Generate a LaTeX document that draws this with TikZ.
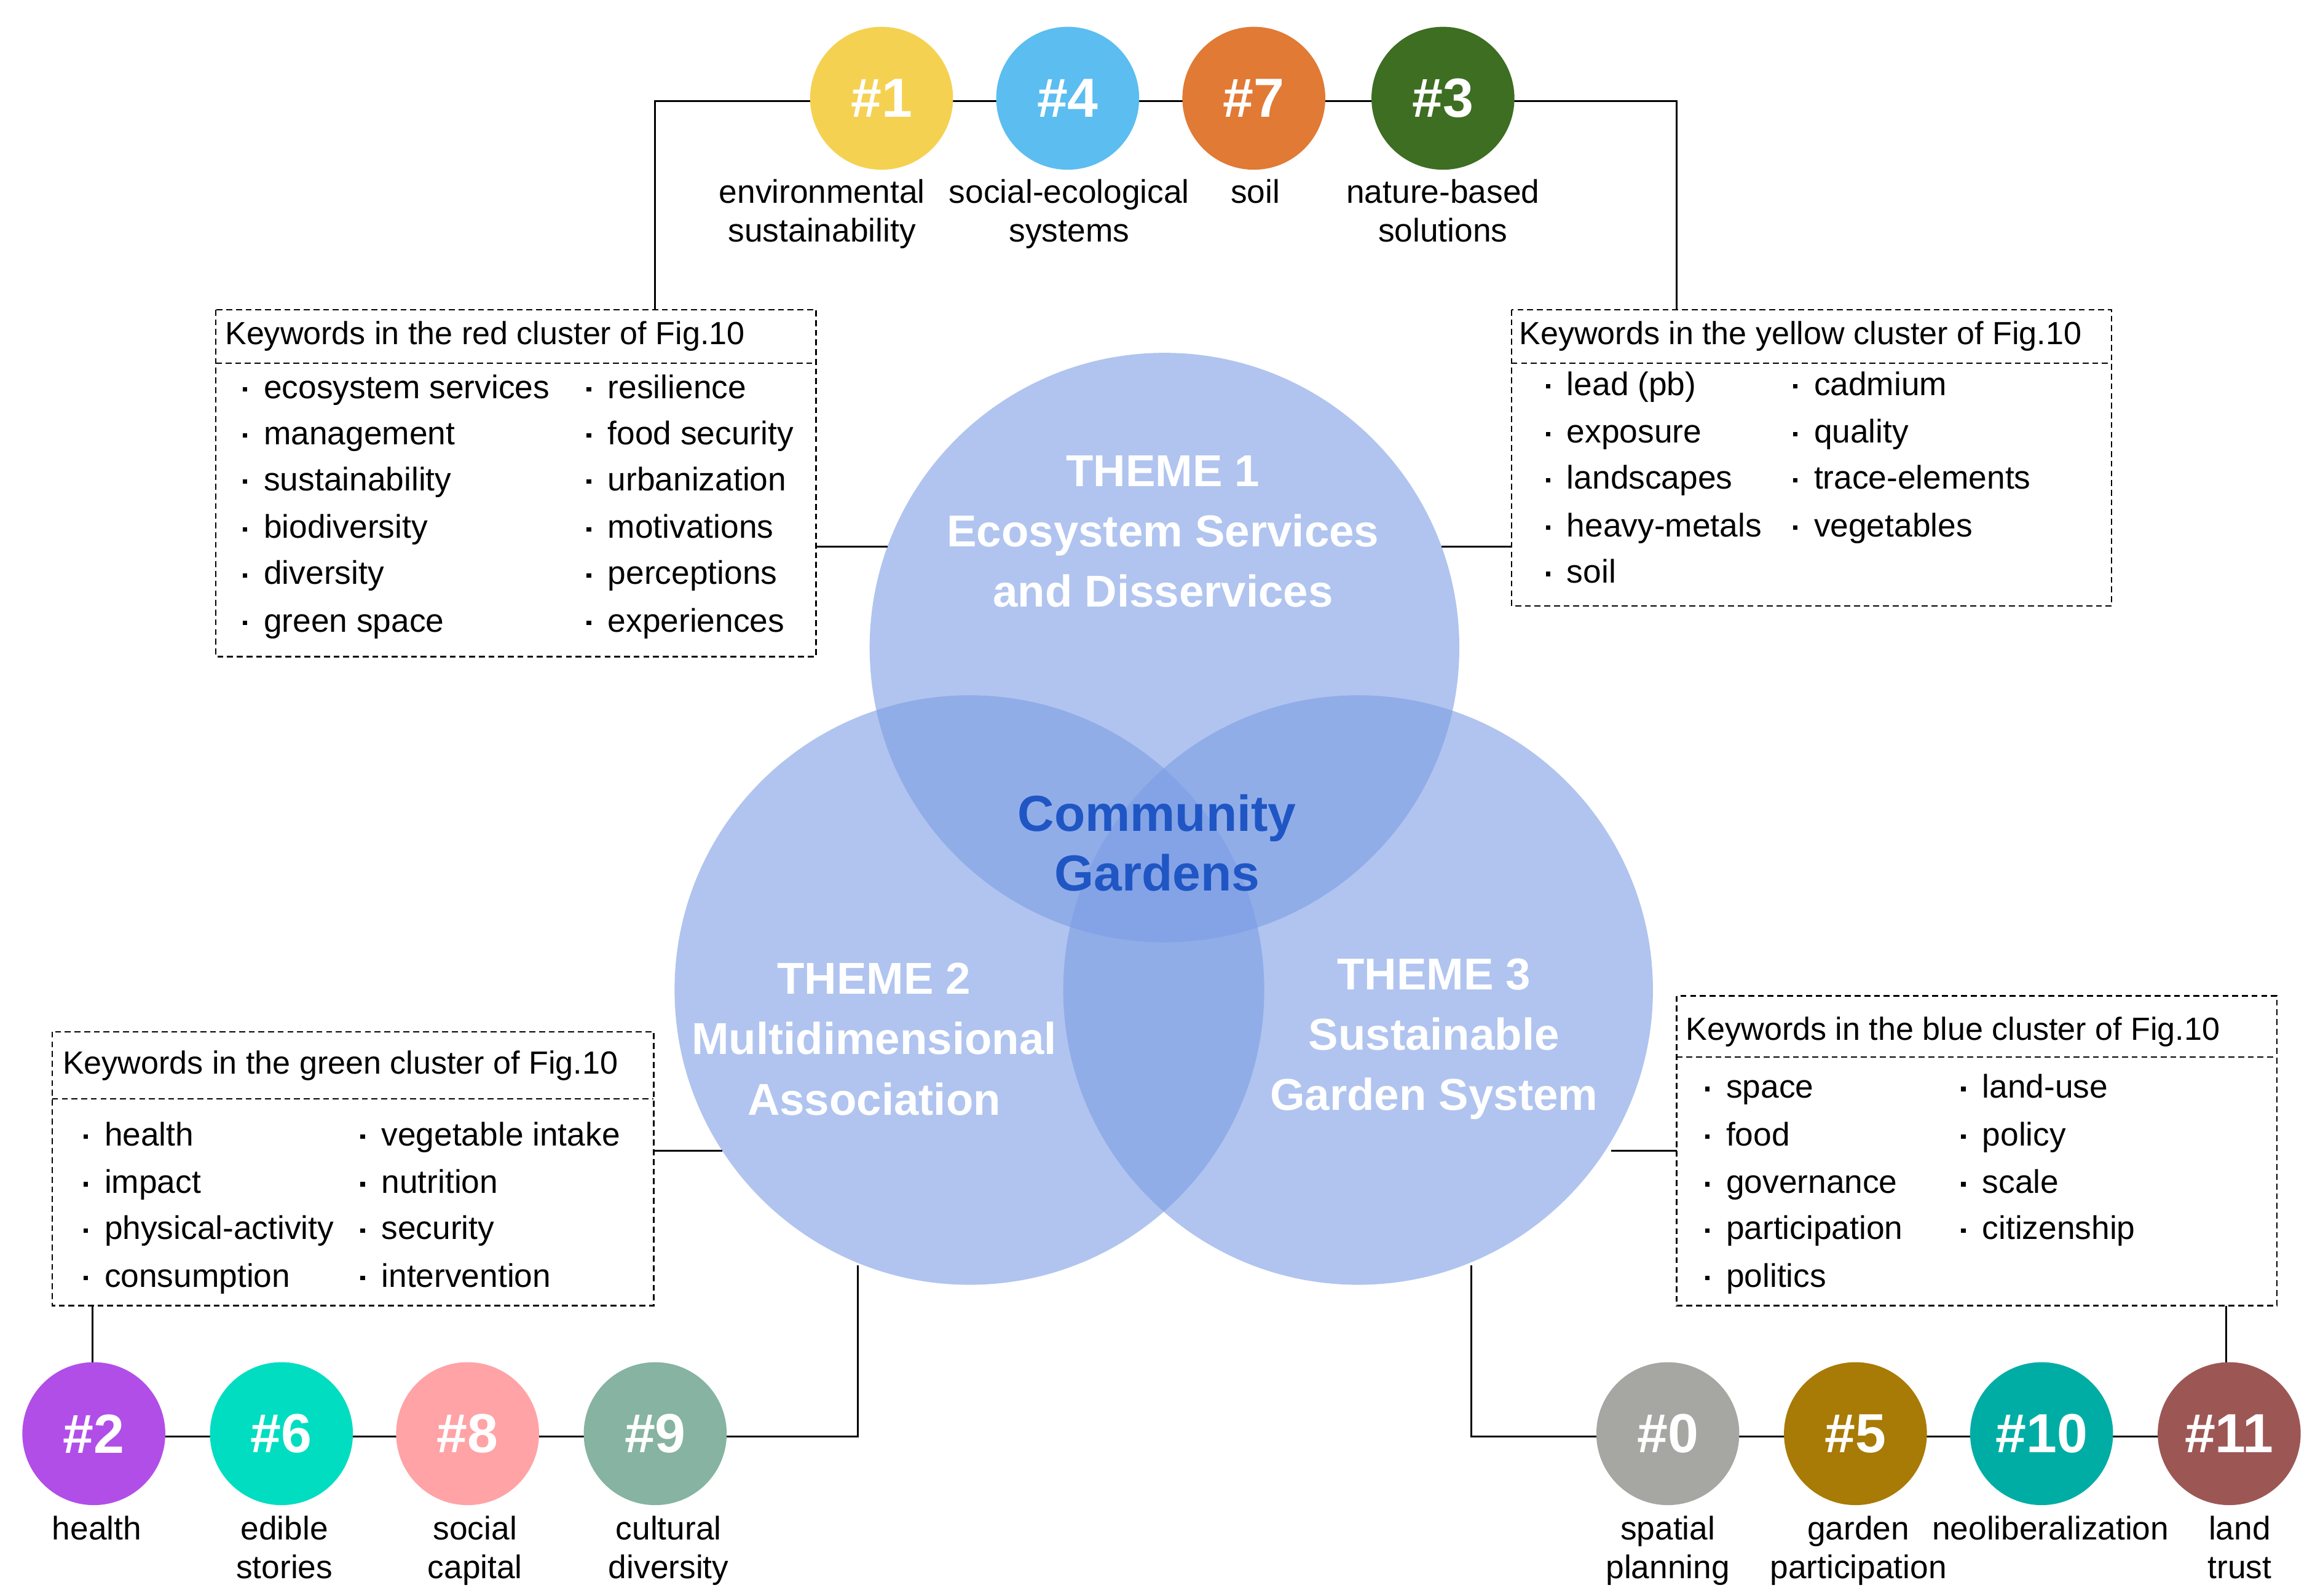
\documentclass[tikz,border=0pt]{standalone}
\usepackage{fontspec}
\setmainfont{Liberation Sans}
\definecolor{bigc}{HTML}{7C9DE4}
\definecolor{HT1}{HTML}{F5D152}
\definecolor{HT4}{HTML}{5BBDF0}
\definecolor{HT7}{HTML}{E07A35}
\definecolor{HT3}{HTML}{3D6E22}
\definecolor{HT2}{HTML}{B24EE8}
\definecolor{HT6}{HTML}{00DDC0}
\definecolor{HT8}{HTML}{FFA3A6}
\definecolor{HT9}{HTML}{86B3A2}
\definecolor{HT0}{HTML}{A6A6A2}
\definecolor{HT5}{HTML}{A87A06}
\definecolor{HT10}{HTML}{00ADA5}
\definecolor{HT11}{HTML}{9C5755}
\definecolor{cgc}{HTML}{1F56C4}
\begin{document}
\begin{tikzpicture}[x=1pt,y=-1pt,
  cl/.style={circle,minimum size=96pt,inner sep=0pt,text=white,font=\fontsize{37}{37}\selectfont\bfseries},
  lab/.style={align=center,font=\fontsize{22}{26}\selectfont,anchor=north},
  kw/.style={anchor=west,inner sep=0pt,text height=15pt,text depth=4pt,font=\fontsize{22}{24}\selectfont},
  ttl/.style={anchor=west,inner sep=0pt,text height=15pt,text depth=4pt,font=\fontsize{21.5}{24}\selectfont},
  box/.style={draw,dash pattern=on 4pt off 2.5pt,line width=1pt},
  ln/.style={line width=1.2pt},
  big/.style={circle,fill=bigc,fill opacity=0.6,minimum size=396pt,inner sep=0pt},
  th/.style={text=white,align=center,font=\fontsize{30}{40.5}\selectfont\bfseries}]
\useasboundingbox (0,0) rectangle (1560,1072);
\newcommand{\kwi}[3]{\fill (#1-4,#2-2) rectangle (#1-1,#2+1); \node[kw] at (#1+10,#2) {#3};}
% big circles
\node[big] (t1) at (782,435) {};
\node[big] (t2) at (651,665) {};
\node[big] (t3) at (912,665) {};
\node[th] at (781,357) {THEME 1\\Ecosystem Services\\and Disservices};
\node[th] at (587,698) {THEME 2\\Multidimensional\\Association};
\node[th] at (963,698) {THEME 3\\Sustainable\\Garden System};
\node[text=cgc,align=center,font=\fontsize{34}{40}\selectfont\bfseries] (cg) at (777,566) {Community\\Gardens};
% top
\coordinate (tl) at (440,68); \coordinate (tr) at (1126,68);
\draw[ln] (440,208) -- (tl) -- (tr) -- (1126,208);
\node[cl,fill=HT1] (c1) at (592,66) {\#1};
\node[cl,fill=HT4] (c4) at (717,66) {\#4};
\node[cl,fill=HT7] (c7) at (842,66) {\#7};
\node[cl,fill=HT3] (c3) at (969,66) {\#3};
\node[lab] at (552,117) {environmental\\sustainability};
\node[lab] at (718,117) {social-ecological\\systems};
\node[lab] at (843,117) {soil};
\node[lab] at (969,117) {nature-based\\solutions};
% red box
\draw[box] (145,208) rectangle (548,441); \draw[box] (145,244)--(548,244);
\node[ttl] at (151,226) {Keywords in the red cluster of Fig.10};
\kwi{167}{262}{ecosystem services}\kwi{167}{293}{management}\kwi{167}{324}{sustainability}
\kwi{167}{356}{biodiversity}\kwi{167}{387}{diversity}\kwi{167}{419}{green space}
\kwi{398}{262}{resilience}\kwi{398}{293}{food security}\kwi{398}{324}{urbanization}
\kwi{398}{356}{motivations}\kwi{398}{387}{perceptions}\kwi{398}{419}{experiences}
\draw[ln] (548,367) -- (596,367);
% yellow box
\draw[box] (1015,208) rectangle (1418,407); \draw[box] (1015,244)--(1418,244);
\node[ttl] at (1020,226) {Keywords in the yellow cluster of Fig.10};
\kwi{1042}{260}{lead (pb)}\kwi{1042}{292}{exposure}\kwi{1042}{323}{landscapes}\kwi{1042}{355}{heavy-metals}\kwi{1042}{386}{soil}
\kwi{1208}{260}{cadmium}\kwi{1208}{292}{quality}\kwi{1208}{323}{trace-elements}\kwi{1208}{355}{vegetables}
\draw[ln] (1015,367) -- (968,367);
% green box
\draw[box] (35,693) rectangle (439,877); \draw[box] (35,738)--(439,738);
\node[ttl] at (42,716) {Keywords in the green cluster of Fig.10};
\kwi{60}{764}{health}\kwi{60}{796}{impact}\kwi{60}{827}{physical-activity}\kwi{60}{859}{consumption}
\kwi{246}{764}{vegetable intake}\kwi{246}{796}{nutrition}\kwi{246}{827}{security}\kwi{246}{859}{intervention}
\draw[ln] (439,773) -- (485,773);
\draw[ln] (62,877) -- (62,920);
\draw[ln] (63,965) -- (576,965) -- (576,850);
\node[cl,fill=HT2] (c2) at (63,963) {\#2};
\node[cl,fill=HT6] (c6) at (189,963) {\#6};
\node[cl,fill=HT8] (c8) at (314,963) {\#8};
\node[cl,fill=HT9] (c9) at (440,963) {\#9};
\node[lab] at (65,1015) {health};
\node[lab] at (191,1015) {edible\\stories};
\node[lab] at (319,1015) {social\\capital};
\node[lab] at (449,1015) {cultural\\diversity};
% blue box
\draw[box] (1126,669) rectangle (1529,877); \draw[box] (1126,710)--(1529,710);
\node[ttl] at (1132,693) {Keywords in the blue cluster of Fig.10};
\kwi{1149}{732}{space}\kwi{1149}{764}{food}\kwi{1149}{796}{governance}\kwi{1149}{827}{participation}\kwi{1149}{859}{politics}
\kwi{1321}{732}{land-use}\kwi{1321}{764}{policy}\kwi{1321}{796}{scale}\kwi{1321}{827}{citizenship}
\draw[ln] (1082,773) -- (1126,773);
\draw[ln] (1495,877) -- (1495,920);
\draw[ln] (988,850) -- (988,965) -- (1497,965);
\node[cl,fill=HT0] (c0) at (1120,963) {\#0};
\node[cl,fill=HT5] (c5) at (1246,963) {\#5};
\node[cl,fill=HT10] (c10) at (1371,963) {\#10};
\node[cl,fill=HT11] (c11) at (1497,963) {\#11};
\node[lab] at (1120,1015) {spatial\\planning};
\node[lab] at (1248,1015) {garden\\participation};
\node[lab] at (1377,1015) {neoliberalization};
\node[lab] at (1504,1015) {land\\trust};
\end{tikzpicture}
\end{document}
